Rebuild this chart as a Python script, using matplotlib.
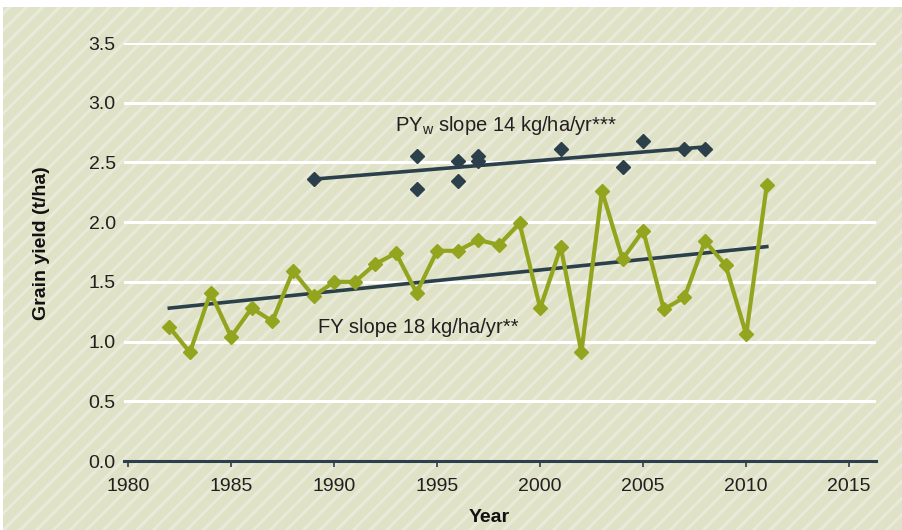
import numpy as np
import matplotlib
matplotlib.use('Agg')
import matplotlib.pyplot as plt
from matplotlib.patches import Rectangle

# Данные: фактическая урожайность (FY) по годам
fy_years = [1982, 1983, 1984, 1985, 1986, 1987, 1988, 1989, 1990, 1991,
            1992, 1993, 1994, 1995, 1996, 1997, 1998, 1999, 2000, 2001,
            2002, 2003, 2004, 2005, 2006, 2007, 2008, 2009, 2010, 2011]
fy_yield = [1.12, 0.91, 1.41, 1.04, 1.28, 1.17, 1.59, 1.38, 1.50, 1.50,
            1.65, 1.74, 1.41, 1.76, 1.76, 1.85, 1.81, 1.99, 1.28, 1.79,
            0.91, 2.26, 1.69, 1.93, 1.27, 1.37, 1.84, 1.64, 1.06, 2.31]

# Потенциальная урожайность (PYw)
py_years = [1989, 1994, 1994, 1996, 1996, 1997, 1997, 2001, 2004, 2005, 2007, 2008]
py_yield = [2.36, 2.55, 2.28, 2.51, 2.345, 2.55, 2.51, 2.61, 2.46, 2.68, 2.61, 2.61]

# Линии тренда (концы)
fy_trend_years = [1982, 2011]
fy_trend = [1.28, 1.795]
py_trend_years = [1989, 2008]
py_trend = [2.36, 2.63]

x_ticks = [1980, 1985, 1990, 1995, 2000, 2005, 2010, 2015]
y_ticks = [0.0, 0.5, 1.0, 1.5, 2.0, 2.5, 3.0, 3.5]

green = '#93a51f'
dark = '#2c404b'
bg = '#dfe2c6'
stripe = '#e8eada'
txt = '#231f20'

plt.rcParams['font.family'] = ['Liberation Sans', 'DejaVu Sans']
plt.rcParams['hatch.linewidth'] = 2.2
plt.rcParams['hatch.color'] = stripe

fig = plt.figure(figsize=(9.03, 5.30), dpi=100)
fig.patch.set_facecolor('white')

# Фон с диагональной штриховкой
bg_rect = Rectangle((3 / 903, 0), 1 - 3 / 903, 1 - 7 / 530, transform=fig.transFigure,
                    facecolor=bg, edgecolor=stripe, hatch='//', linewidth=0, zorder=-10)
fig.patches.append(bg_rect)

ax = fig.add_axes([124 / 903, 1 - 461 / 530, 752 / 903, 418 / 530])
ax.set_facecolor('none')
ax.set_zorder(1)

# Сетка
for yv in y_ticks[1:]:
    ax.axhline(yv, color='white', linewidth=2.2, zorder=1)

# Тренды
ax.plot(fy_trend_years, fy_trend, color=dark, linewidth=2.6, zorder=2)
ax.plot(py_trend_years, py_trend, color=dark, linewidth=2.6, zorder=2)

# FY
ax.plot(fy_years, fy_yield, color=green, linewidth=3.0, marker='D', markersize=7,
        markerfacecolor=green, markeredgecolor=green, zorder=3)
# PYw
ax.plot(py_years, py_yield, linestyle='none', marker='D', markersize=6.8,
        markerfacecolor=dark, markeredgecolor=dark, zorder=3)

ax.set_xlim(1979.8, 2016.3)
ax.set_ylim(0, 3.5)
ax.set_xticks(x_ticks)
ax.set_yticks(y_ticks)
ax.set_yticklabels([f'{v:.1f}' for v in y_ticks])

for s in ['top', 'right', 'left']:
    ax.spines[s].set_visible(False)
ax.spines['bottom'].set_color(dark)
ax.spines['bottom'].set_linewidth(2.2)
ax.spines['bottom'].set_zorder(4)

ax.tick_params(axis='x', direction='out', length=4, width=1.2, color=dark,
               labelsize=14, labelcolor=txt, pad=8)
ax.tick_params(axis='y', length=0, labelsize=14, labelcolor=txt, pad=6)

ax.text(1998.35, 2.81, r'PY$_\mathregular{w}$ slope 14 kg/ha/yr***', fontsize=14.5,
        ha='center', va='center', color=txt)
ax.text(1994.1, 1.12, 'FY slope 18 kg/ha/yr**', fontsize=14.5,
        ha='center', va='center', color=txt)

fig.text(42 / 903, 1 - 243 / 530, 'Grain yield (t/ha)', rotation=90, fontsize=14,
         fontweight='bold', ha='center', va='center', color='#111111')
fig.text(489 / 903, 1 - 517 / 530, 'Year', fontsize=14, fontweight='bold',
         ha='center', va='center', color='#111111')

fig.savefig('out.png', dpi=100, facecolor=fig.get_facecolor())
